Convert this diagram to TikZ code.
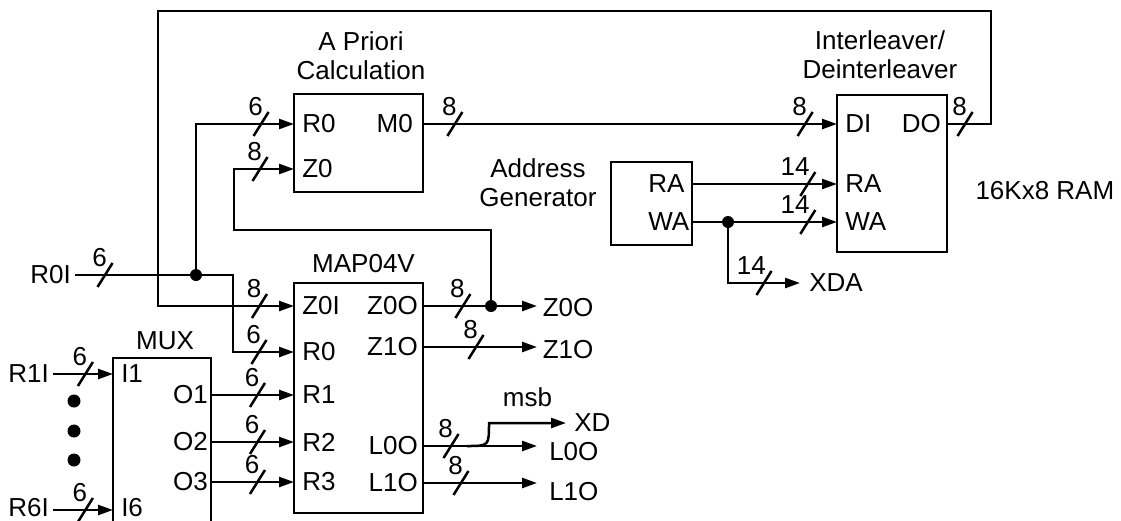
\documentclass[tikz,border=0pt]{standalone}
\usepackage{fontspec}
\setmainfont{Liberation Sans}
\usetikzlibrary{positioning,arrows.meta}

\tikzset{
  pics/slash/.style={code={
    \draw[-] (-7.5,12) -- (7.5,-12);
    \node[anchor=south east] at (3,-7) {#1};
  }}
}

\begin{document}
\begin{tikzpicture}[
    x=1pt, y=-1pt,
    line width=2.5pt,
    every node/.style={font=\fontsize{26}{29}\selectfont, inner sep=0pt},
    blk/.style={rectangle, draw=black},
    pinl/.style={anchor=west, inner xsep=7pt},
    pinr/.style={anchor=east, inner xsep=5pt},
    inl/.style={anchor=east, inner xsep=3pt},
    ttl/.style={align=center},
    arrow/.style={-{Triangle[length=15pt, width=10pt]}}
]
\useasboundingbox (0,0) rectangle (1121,520);
\clip (0,0) rectangle (1121,520);

% Blocks
\node (apri) [blk, minimum width=129, minimum height=98] at (358.5,143) {};
\node (ram) [blk, minimum width=110, minimum height=157] at (892,173.5) {};
\node (agen) [blk, minimum width=81, minimum height=83] at (651.5,203.5) {};
\node (map) [blk, minimum width=129, minimum height=230] at (358.5,398) {};
\node (mux) [blk, minimum width=98, minimum height=200] at (162,458) {};

% Titles
\node (aprittl) [ttl, above=12pt of apri, xshift=2.5pt] {A Priori\\Calculation};
\node (ramttl) [ttl, above=14pt of ram, xshift=-12pt] {Interleaver/\\Deinterleaver};
\node (agenttl) [ttl, left=12pt of agen, yshift=21pt] {Address\\Generator};
\node (ramsize) [right=26pt of ram, yshift=-17.5pt] {16Kx8 RAM};
\node (mapttl) [above=8pt of map, xshift=5pt] {MAP04V};
\node (muxttl) [above=6pt of mux, xshift=3pt] {MUX};

% Pins
\node (apriR0) [pinl] at (294,124) {R0};
\node (apriZ0) [pinl] at (294,169) {Z0};
\node (apriM0) [pinr, inner xsep=9pt] at (423,124) {M0};
\node (ramDI) [pinl] at (837,124) {DI};
\node (ramRA) [pinl] at (837,184) {RA};
\node (ramWA) [pinl] at (837,222) {WA};
\node (ramDO) [pinr] at (947,124) {DO};
\node (agenRA) [anchor=west] at (647,184) {RA};
\node (agenWA) [anchor=west] at (647,222) {WA};
\node (mapZ0I) [pinl] at (294,306) {Z0I};
\node (mapR0) [pinl] at (294,352) {R0};
\node (mapR1) [pinl] at (294,395) {R1};
\node (mapR2) [pinl] at (294,442) {R2};
\node (mapR3) [pinl] at (294,482) {R3};
\node (mapZ0O) [pinr, inner xsep=4pt] at (423,306) {Z0O};
\node (mapZ1O) [pinr, inner xsep=4pt] at (423,347) {Z1O};
\node (mapL0O) [pinr, inner xsep=4pt] at (423,446) {L0O};
\node (mapL1O) [pinr, inner xsep=4pt] at (423,483) {L1O};
\node (muxI1) [pinl] at (113,374) {I1};
\node (muxI6) [pinl, yshift=2.5pt] at (113,510) {I6};
\node (muxO1) [pinr, inner xsep=2pt] at (211,395) {O1};
\node (muxO2) [pinr, inner xsep=2pt] at (211,442) {O2};
\node (muxO3) [pinr, inner xsep=2pt] at (211,482) {O3};

% Inputs and outputs
\node (r0i) [inl] at (75,275) {R0I};
\node (r1i) [inl] at (53,374) {R1I};
\node (r6i) [inl, yshift=2.5pt] at (53,510) {R6I};
\coordinate (z0oEnd) at (537,306);
\coordinate (z1oEnd) at (537,347);
\coordinate (l0oEnd) at (537,446);
\coordinate (l1oEnd) at (537,483);
\coordinate (xdEnd) at (566,423);
\coordinate (xdaEnd) at (800,283);
\coordinate (i6In) at (113,510);
\coordinate (r6iOut) at (53,510);
\node (z0o) [right=4.5pt of z0oEnd, yshift=-2pt] {Z0O};
\node (z1o) [right=4.5pt of z1oEnd, yshift=-3pt] {Z1O};
\node (l0o) [right=11pt of l0oEnd, yshift=-6pt] {L0O};
\node (l1o) [right=11pt of l1oEnd, yshift=-9pt] {L1O};
\node (xd) [right=7pt of xdEnd] {XD};
\node (xda) [right=8pt of xdaEnd] {XDA};

% Junctions and bends
\coordinate (j1) at (196,275);
\coordinate (j2) at (491,306);
\coordinate (j3) at (728,222);
\coordinate (b1) at (233,275);
\coordinate (b3) at (234,230);
\coordinate (loopR) at (991,11);
\coordinate (loopL) at (158,11);
\coordinate (msbA) at (467,446);
\coordinate (msbB) at (489,423);

% Arrows
\draw [arrow] (r0i.east) -- (b1) pic[pos=0.19]{slash=6} |- (mapR0.west) pic[pos=0.713]{slash=6};
\draw [arrow] (j1) |- (apriR0.west) pic[pos=0.832]{slash=6};
\draw [arrow] (ramDO.east) -| (loopR) pic[pos=0.205]{slash=8} -- (loopL) |- (mapZ0I.west) pic[pos=0.873]{slash=8};
\draw [arrow] (apriM0.east) -- (ramDI.west) pic[pos=0.077]{slash=8} pic[pos=0.923]{slash=8};
\draw [arrow] (mapZ0O.east) -- (z0oEnd) pic[pos=0.35]{slash=8};
\draw [arrow] (j2) |- (b3) |- (apriZ0.west) pic[pos=0.717]{slash=8};
\draw [arrow] (mapZ1O.east) -- (z1oEnd) pic[pos=0.465]{slash=8};
\draw [arrow] (mapL0O.east) -- (l0oEnd) pic[pos=0.246]{slash=8};
\draw [arrow] (msbA) .. controls (msbB |- msbA) .. (msbB) -- node[midway, above=15pt] {msb} (xdEnd);
\draw [arrow] (mapL1O.east) -- (l1oEnd) pic[pos=0.333]{slash=8};
\draw [arrow] (agen.east |- agenRA) -- (ramRA.west) pic[pos=0.797]{slash=14};
\draw [arrow] (agen.east |- agenWA) -- (ramWA.west) pic[pos=0.797]{slash=14};
\draw [arrow] (j3) |- (xdaEnd) pic[pos=0.75]{slash=14};
\draw [arrow] (muxO1.east) -- (mapR1.west) pic[pos=0.56]{slash=6};
\draw [arrow] (muxO2.east) -- (mapR2.west) pic[pos=0.56]{slash=6};
\draw [arrow] (muxO3.east) -- (mapR3.west) pic[pos=0.56]{slash=6};
\draw [arrow] (r1i.east) -- (muxI1.west) pic[pos=0.54]{slash=6};
\draw [arrow] (r6iOut) -- (i6In) pic[pos=0.54]{slash=6};

% Dots
\foreach \j in {j1,j2,j3} \fill (\j) circle (6);
\foreach \y in {401,431,460} \fill (74,\y) circle (6.5);

\end{tikzpicture}
\end{document}
